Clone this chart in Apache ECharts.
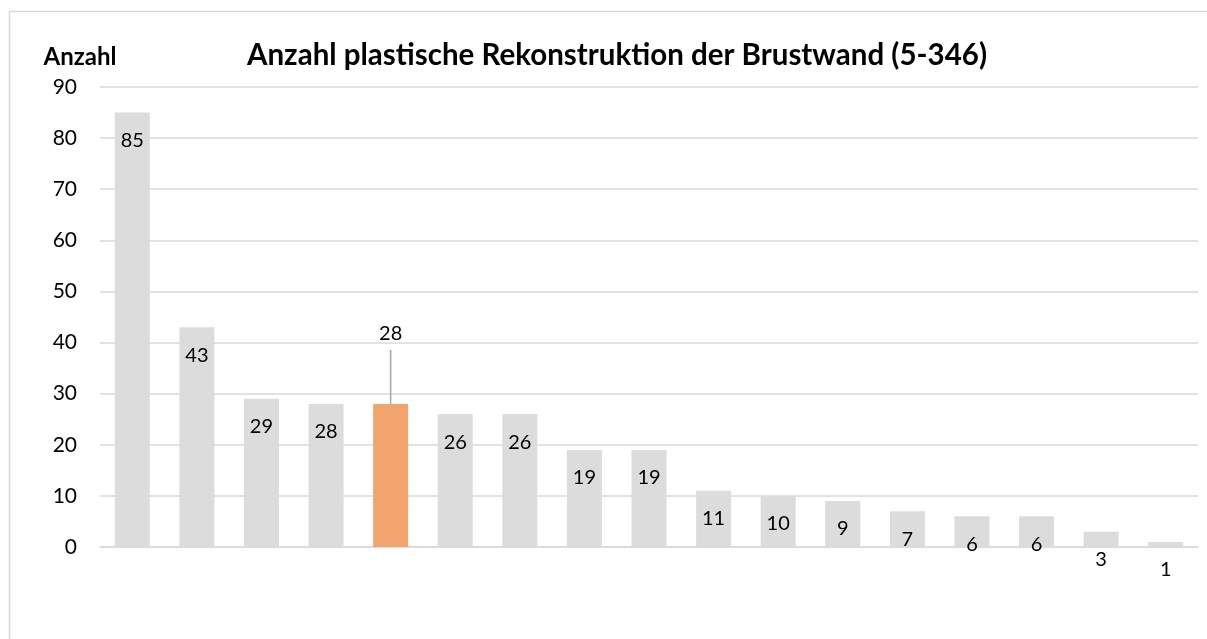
<!DOCTYPE html>
<html>
<head>
<meta charset="utf-8">
<script src="https://cdn.jsdelivr.net/npm/echarts@6/dist/echarts.min.js"></script>
<style>
html,body{margin:0;padding:0;background:#fff;overflow:hidden;}
#c{width:1207px;height:639px;}
</style>
</head>
<body>
<div id="c"></div>
<script>
const titleText = 'Anzahl plastische Rekonstruktion der Brustwand (5-346)';
const yAxisName = 'Anzahl';
const categories = ['', '', '', '', '', '', '', '', '', '', '', '', '', '', '', '', ''];
const values = [85, 43, 29, 28, 28, 26, 26, 19, 19, 11, 10, 9, 7, 6, 6, 3, 1];
const highlightIndex = 4;
const yTicks = [0, 10, 20, 30, 40, 50, 60, 70, 80, 90];

const FONT = 'Lato';
const grey = '#dcdcdc';
const orange = '#f2a46e';

const seriesData = values.map((v, i) => {
  if (i === highlightIndex) {
    return {
      value: v,
      itemStyle: { color: orange },
      label: { position: 'top', distance: 60 }
    };
  }
  return { value: v };
});

const chart = echarts.init(document.getElementById('c'), null, { renderer: 'canvas' });
const baseOption = {
  animation: false,
  backgroundColor: '#ffffff',
  title: {
    text: titleText,
    left: 612,
    top: 35,
    textAlign: 'center',
    textStyle: { fontFamily: FONT, fontWeight: 'bold', fontSize: 29.5, color: '#000' }
  },
  grid: { left: 100, right: 9, top: 87, bottom: 92, containLabel: false },
  xAxis: {
    type: 'category',
    data: categories,
    axisLine: { show: true, lineStyle: { color: '#d9d9d9', width: 1.5 } },
    axisTick: { show: false },
    axisLabel: { show: false },
    splitLine: { show: false }
  },
  yAxis: {
    type: 'value',
    min: yTicks[0],
    max: yTicks[yTicks.length - 1],
    interval: yTicks[1] - yTicks[0],
    name: yAxisName,
    nameLocation: 'end',
    nameGap: 18,
    nameTextStyle: { fontFamily: FONT, fontWeight: 'bold', fontSize: 24, color: '#000', align: 'center', verticalAlign: 'bottom', padding: [0, 40, 0, 0] },
    axisLine: { show: false },
    axisTick: { show: false },
    axisLabel: { fontFamily: FONT, fontSize: 21, color: '#000', margin: 23 },
    splitLine: { show: true, lineStyle: { color: '#d9d9d9', width: 1.5 } }
  },
  series: [{
    type: 'bar',
    data: seriesData,
    barWidth: 35,
    itemStyle: { color: grey },
    label: {
      show: true,
      position: 'insideTop',
      distance: 18,
      fontFamily: FONT,
      fontSize: 20,
      color: '#000'
    }
  }]
};
chart.setOption(baseOption);

// leader line for the highlighted bar, placed through the library's scales
const barTop = chart.convertToPixel({ seriesIndex: 0 }, [highlightIndex, values[highlightIndex]]);
chart.setOption({
  graphic: [
    {
      type: 'polyline',
      shape: { points: [[9.5, 639], [9.5, 11.5], [1207, 11.5]] },
      style: { fill: null, stroke: '#d9d9d9', lineWidth: 1.5 },
      silent: true
    },
    {
      type: 'line',
      shape: { x1: barTop[0], y1: barTop[1], x2: barTop[0], y2: barTop[1] - 54 },
      style: { stroke: '#a6a6a6', lineWidth: 1.5 },
      silent: true,
      z: 10
    }
  ]
});
</script>
</body>
</html>
